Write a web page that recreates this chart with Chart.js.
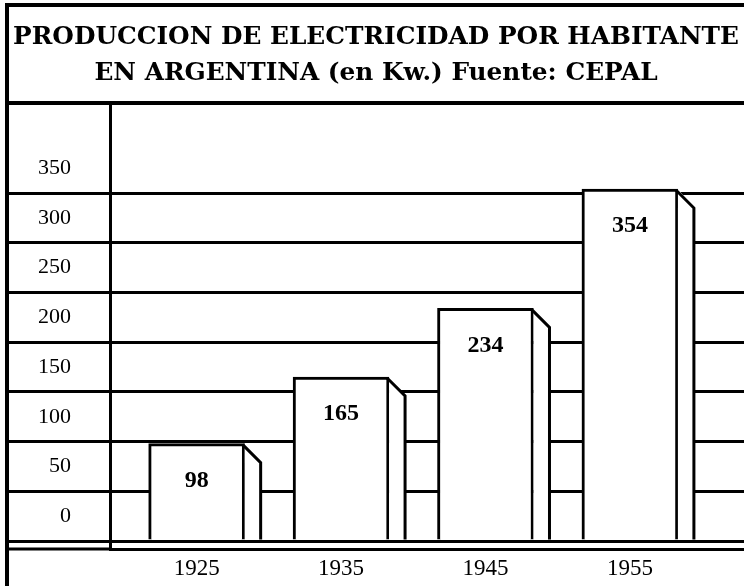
<!DOCTYPE html>
<html>
<head>
<meta charset="utf-8">
<script src="https://cdn.jsdelivr.net/npm/chart.js@4.4.1/dist/chart.umd.min.js"></script>
<style>
html,body{margin:0;padding:0;background:#fff;}
#wrap{width:744px;height:586px;position:relative;}
</style>
</head>
<body>
<div id="wrap"><canvas id="chart"></canvas></div>
<script>
// datos
const years = [1925, 1935, 1945, 1955];
const kwPerHab = [98, 165, 234, 354];
const yTicks = [0, 50, 100, 150, 200, 250, 300, 350];
const titleLines = ["PRODUCCION DE ELECTRICIDAD POR HABITANTE", "EN ARGENTINA (en Kw.) Fuente: CEPAL"];

const serif = "'Liberation Serif', 'Times New Roman', serif";

// marco del recuadro y linea doble de la base
const framePlugin = {
id: "frame",
afterDraw(chart){
let c = chart.ctx;
let a = chart.chartArea;
c.save();
c.strokeStyle = "#000";
c.lineWidth = 4;
c.beginPath();
c.moveTo(7, 5); c.lineTo(7, 586);
c.moveTo(5, 5); c.lineTo(744, 5);
c.moveTo(5, 103); c.lineTo(744, 103);
c.stroke();
c.lineWidth = 3;
c.beginPath();
c.moveTo(7, a.bottom); c.lineTo(a.left, a.bottom);
c.stroke();
c.restore();
}
};

// cara lateral de cada barra y su valor
const sidePlugin = {
id: "sides",
afterDatasetsDraw(chart){
let c = chart.ctx;
let meta = chart.getDatasetMeta(0);
c.save();
meta.data.forEach((bar, i) => {
let right = bar.x + bar.width / 2;
let d = 16;
c.beginPath();
c.moveTo(right, bar.y);
c.lineTo(right + d, bar.y + 19);
c.lineTo(right + d, bar.base);
c.lineTo(right, bar.base);
c.closePath();
c.fillStyle = "#fff";
c.fill();
c.beginPath();
c.moveTo(right - 2, bar.y + 1);
c.lineTo(right + d, bar.y + 19);
c.lineTo(right + d, bar.base);
c.strokeStyle = "#000";
c.lineWidth = 3;
c.stroke();
c.fillStyle = "#000";
c.font = "bold 24px " + serif;
c.textAlign = "center";
c.textBaseline = "middle";
c.fillText(String(kwPerHab[i]), bar.x, bar.y + 37);
});
c.restore();
}
};

new Chart(document.getElementById("chart"), {
type: "bar",
data: {
datasets: [{
data: years.map((y, i) => ({x: y, y: kwPerHab[i]})),
backgroundColor: "#fff",
borderColor: "#000",
borderWidth: 3,
barThickness: 96
}]
},
options: {
responsive: true,
maintainAspectRatio: false,
animation: false,
layout: {padding: {left: 8, right: 0, top: 0, bottom: 0}},
plugins: {
legend: {display: false},
tooltip: {enabled: false},
title: {
display: true,
text: titleLines,
color: "#000",
font: {family: "'DejaVu Serif', serif", size: 24.8, weight: "bold", lineHeight: 1.45},
padding: {top: 20, bottom: 13}
}
},
scales: {
x: {
type: "linear",
offset: false,
min: 1919,
max: 1962.9,
afterBuildTicks: s => { s.ticks = years.map(v => ({value: v})); },
afterFit: s => { s.height = 37; },
grid: {display: false, drawTicks: false, offset: false},
border: {display: true, color: "#000", width: 3},
ticks: {
color: "#000",
font: {family: serif, size: 23},
padding: 6,
maxRotation: 0,
callback: v => String(v)
}
},
y: {
min: -8,
max: 438.6,
afterBuildTicks: s => {
let t = [];
yTicks.forEach(v => { t.push({value: v}); t.push({value: v + 25}); });
s.ticks = t;
},
afterFit: s => { s.width = 102; },
grid: {
color: ctx => yTicks.includes(ctx.tick.value) ? "#000" : "rgba(0,0,0,0)",
lineWidth: 3,
drawTicks: true,
tickLength: 102
},
border: {display: true, color: "#000", width: 3},
ticks: {
color: "#000",
font: {family: serif, size: 22},
padding: -63,
callback: v => (v % 50 === 25) ? String(v - 25) : ""
}
}
}
},
plugins: [framePlugin, sidePlugin]
});
</script>
</body>
</html>
